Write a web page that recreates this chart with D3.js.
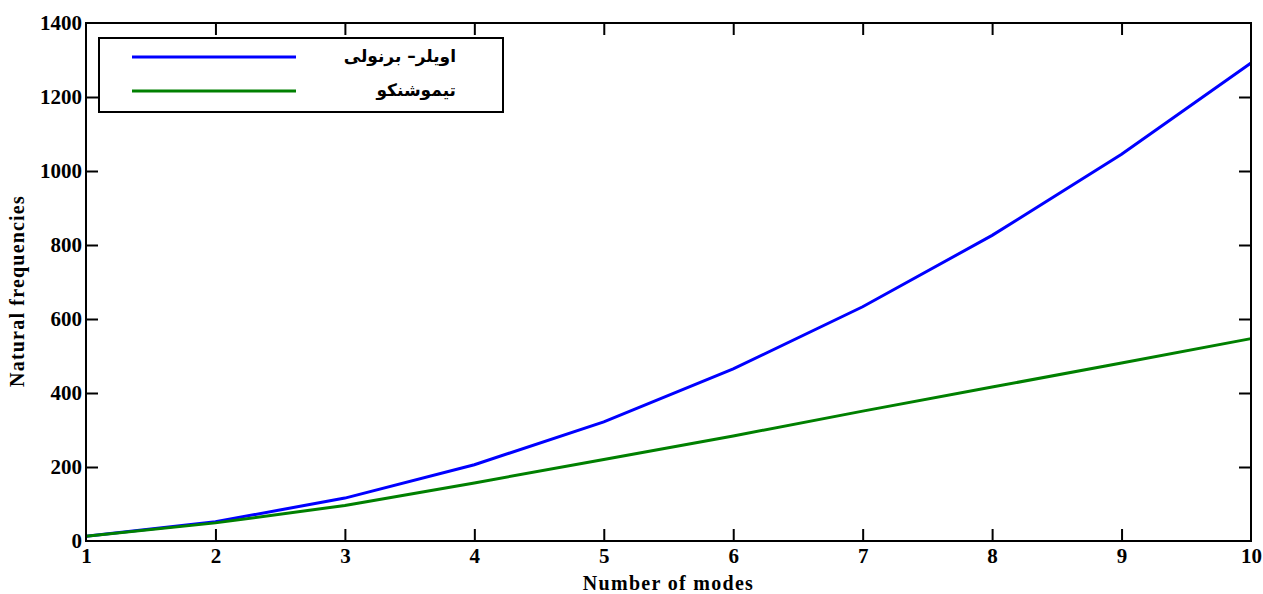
<!DOCTYPE html>
<html><head><meta charset="utf-8">
<script src="https://cdn.jsdelivr.net/npm/d3@7"></script>
<style>body{margin:0;background:#fff}</style>
</head><body>
<svg id="c" width="1263" height="594"></svg>
<script>
const modes = [1,2,3,4,5,6,7,8,9,10];
const eulerBernoulli = [13, 52, 116, 206, 322, 465, 633, 826, 1045, 1292];
const timoshenko = [13, 49, 96, 157, 220, 284, 351, 416, 481, 547];
const xTicks = [1,2,3,4,5,6,7,8,9,10];
const yTicks = [0,200,400,600,800,1000,1200,1400];
const seriesNames = ["اویلر– برنولی", "تیموشنکو"];
const seriesColors = ["#0000ff", "#008000"];

const svg = d3.select("#c");
const L = 86, R = 1251, T = 23, B = 541;
const x = d3.scaleLinear().domain([1,10]).range([L,R]);
const y = d3.scaleLinear().domain([0,1400]).range([B,T]);
const font = "'Liberation Serif', 'Times New Roman', serif";

// data lines
const line = d3.line().x((d,i)=>x(modes[i])).y(d=>y(d));
[eulerBernoulli, timoshenko].forEach((s,k)=>{
  svg.append("path").attr("d", line(s)).attr("fill","none")
    .attr("stroke", seriesColors[k]).attr("stroke-width",3);
});

// axes
const tl = 12;
const gB = svg.append("g").attr("transform",`translate(0,${B})`)
  .call(d3.axisBottom(x).tickValues(xTicks).tickSize(-tl).tickPadding(6).tickFormat(d3.format("d")));
const gT = svg.append("g").attr("transform",`translate(0,${T})`)
  .call(d3.axisTop(x).tickValues(xTicks).tickSize(-tl).tickFormat(""));
const gL = svg.append("g").attr("transform",`translate(${L},0)`)
  .call(d3.axisLeft(y).tickValues(yTicks).tickSize(-tl).tickPadding(4).tickFormat(d3.format("d")));
const gR = svg.append("g").attr("transform",`translate(${R},0)`)
  .call(d3.axisRight(y).tickValues(yTicks).tickSize(-tl).tickFormat(""));
[gB,gT,gL,gR].forEach(g=>{
  g.select(".domain").remove();
  g.selectAll(".tick line").attr("stroke","#000").attr("stroke-width",2);
  g.selectAll("text").attr("font-family",font).attr("font-weight","bold")
    .attr("font-size",21).attr("fill","#000");
});
gB.selectAll("text").attr("dy","0.75em");
gB.selectAll(".tick line").filter(d=>d===1||d===10).remove();
gT.selectAll(".tick line").filter(d=>d===1||d===10).remove();
gL.selectAll(".tick line").filter(d=>d===0||d===1400).remove();
gR.selectAll(".tick line").filter(d=>d===0||d===1400).remove();
svg.append("rect").attr("x",L).attr("y",T).attr("width",R-L).attr("height",B-T)
  .attr("fill","none").attr("stroke","#000").attr("stroke-width",2);

// axis titles
svg.append("text").attr("x",(L+R)/2).attr("y",590).attr("text-anchor","middle")
  .attr("font-family",font).attr("font-weight","bold").attr("font-size",20)
  .attr("letter-spacing","1.3px").text("Number of modes");
svg.append("text").attr("transform",`translate(24,${(196+386)/2}) rotate(-90)`)
  .attr("text-anchor","middle")
  .attr("font-family",font).attr("font-weight","bold").attr("font-size",20)
  .attr("letter-spacing","1.2px").text("Natural frequencies");

// legend
const lg = svg.append("g");
lg.append("rect").attr("x",99).attr("y",38).attr("width",404).attr("height",74)
  .attr("fill","#fff").attr("stroke","#000").attr("stroke-width",2);
[57,91].forEach((yy,k)=>{
  lg.append("line").attr("x1",132).attr("x2",296).attr("y1",yy).attr("y2",yy)
    .attr("stroke",seriesColors[k]).attr("stroke-width",3);
  lg.append("text").attr("x",456).attr("y",yy).attr("dy","0.3em")
    .attr("text-anchor","end")
    .attr("font-family","'DejaVu Sans', sans-serif").attr("font-weight","bold")
    .attr("font-size",17).attr("fill","#000").text(seriesNames[k]);
});
</script>
</body></html>
